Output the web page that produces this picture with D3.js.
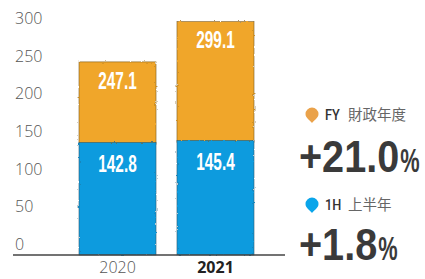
<!DOCTYPE html>
<html><head><meta charset="utf-8">
<script src="https://cdn.jsdelivr.net/npm/d3@7"></script>
<style>html,body{margin:0;padding:0;background:#fff;overflow:hidden}</style>
</head><body>
<svg id="c" width="425" height="279"></svg>
<script>
const years = ["2020", "2021"];
const firstHalf = [142.8, 145.4];
const fullYear = [247.1, 299.1];
const yTicks = [0, 50, 100, 150, 200, 250, 300];
const legendItems = [
  {key: "FY", label: "財政年度", change: "+21.0"},
  {key: "1H", label: "上半年", change: "+1.8"}
];
const colors = {FY: "#F0A62A", "1H": "#0A9BDE"};

const svg = d3.select("#c");
const defs = svg.append("defs");
const f = defs.append("filter").attr("id","rough").attr("x","-5%").attr("y","-5%").attr("width","110%").attr("height","110%");
f.append("feTurbulence").attr("type","fractalNoise").attr("baseFrequency","0.35").attr("numOctaves",2).attr("seed",3).attr("result","n");
f.append("feDisplacementMap").attr("in","SourceGraphic").attr("in2","n").attr("scale",2.2).attr("xChannelSelector","R").attr("yChannelSelector","G");

const x = d3.scaleBand().domain(years).range([79, 254]).paddingInner(0.214).paddingOuter(0);
const y = d3.scaleLinear().domain([0, 300]).range([253, 21]);
const yLab = d3.scaleLinear().domain([0, 300]).range([244, 18]);

// y tick labels
const ax = svg.append("g").attr("transform","translate(15,0)")
  .call(d3.axisRight(yLab).tickValues(yTicks).tickSize(0).tickPadding(0));
ax.select(".domain").remove();
ax.selectAll("text").attr("font-family","'Open Sans', sans-serif").attr("font-weight",300)
  .attr("font-size",16).attr("fill","#555").attr("dy","0.35em");

// bars
const bars = svg.append("g").attr("filter","url(#rough)");
years.forEach((yr,i)=>{
  bars.append("rect").attr("x",x(yr)).attr("width",x.bandwidth())
    .attr("y",y(fullYear[i])).attr("height",y(firstHalf[i]) - y(fullYear[i]) + 2)
    .attr("fill",colors.FY).attr("stroke","#7a5a20").attr("stroke-width",0.6);
  bars.append("rect").attr("x",x(yr)).attr("width",x.bandwidth())
    .attr("y",y(firstHalf[i])).attr("height",255 - y(firstHalf[i]))
    .attr("fill",colors["1H"]).attr("stroke","#2a5a70").attr("stroke-width",0.6);
});

// value labels
const lab = svg.append("g").attr("font-family","'Liberation Sans', Arial, sans-serif")
  .attr("font-weight","bold").attr("fill","#fff").attr("font-size",24).attr("text-anchor","middle");
years.forEach((yr,i)=>{
  const cx = x(yr) + x.bandwidth()/2;
  [[fullYear[i], y(fullYear[i]) + 18],[firstHalf[i], y(firstHalf[i]) + 21]].forEach(([v,py])=>{
    lab.append("text").attr("transform",`translate(${cx},${py}) scale(0.64,1)`)
      .attr("dy","0.36em").text(v.toFixed(1));
  });
});

// baseline
svg.append("line").attr("x1",13).attr("x2",285).attr("y1",255).attr("y2",255)
  .attr("stroke","#444").attr("stroke-width",1.5);

// x labels
const xa = svg.append("g").attr("transform","translate(0,262)")
  .call(d3.axisBottom(x).tickSize(0).tickPadding(0));
xa.select(".domain").remove();
xa.selectAll("text").attr("font-family","'Open Sans', sans-serif").attr("font-size",16)
  .attr("dy","0.71em")
  .attr("font-weight",(d,i)=> i===1 ? 700 : 300)
  .attr("fill",(d,i)=> i===1 ? "#222" : "#555");

// legend
const legY = [115, 205];
const numY = [172, 260];
legendItems.forEach((it,i)=>{
  const g = svg.append("g").attr("transform",`translate(312,${legY[i]})`);
  g.append("path").attr("d","M0,8 C-2,5 -6.5,3 -6.5,-1 A6.5,6.5 0 1 1 6.5,-1 C6.5,3 2,5 0,8Z")
    .attr("fill", it.key==="FY" ? "#EAA24A" : "#0AA5EA");
  g.append("text").attr("transform","translate(13,0) scale(0.85,1)").attr("dy","0.36em")
    .attr("font-family","'Roboto',sans-serif").attr("font-weight",500).attr("font-size",15)
    .attr("fill","#333").text(it.key);
  g.append("text").attr("x",36).attr("y",0).attr("dy","0.36em")
    .attr("font-family","'Noto Sans CJK TC',sans-serif").attr("font-size",14.5)
    .attr("fill","#666").text(it.label);
  const big = svg.append("text").attr("transform",`translate(299,${numY[i]}) scale(0.88,1)`)
    .attr("font-family","'Liberation Sans', Arial, sans-serif")
    .attr("font-weight","bold").attr("fill","#3a3a3a").attr("font-size",45).text(it.change);
  const w = big.node().getComputedTextLength() * 0.88;
  svg.append("text").attr("transform",`translate(${299 + w + 1},${numY[i]}) scale(0.66,1)`)
    .attr("font-family","'Liberation Sans', Arial, sans-serif")
    .attr("font-weight","bold").attr("fill","#3a3a3a").attr("font-size",33).text("%");
});
</script>
</body></html>
